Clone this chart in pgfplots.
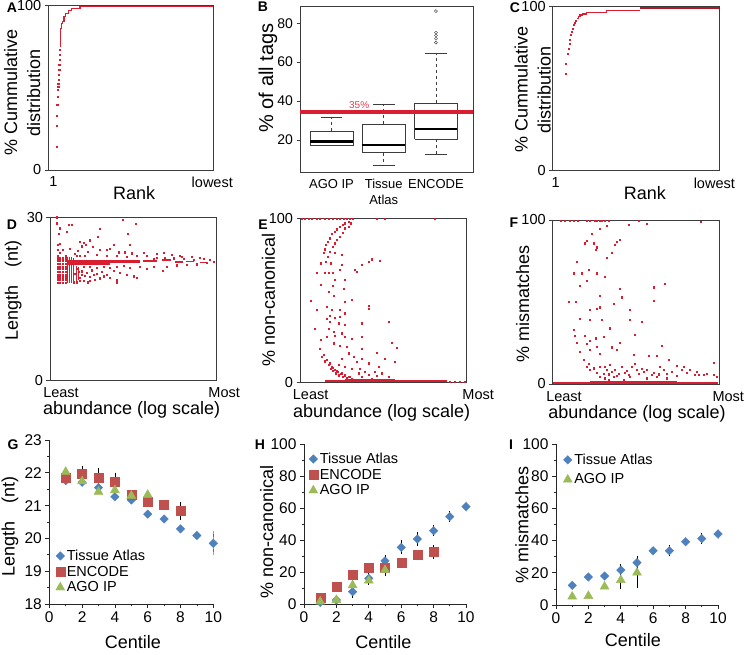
\documentclass[border=0pt]{standalone}
\usepackage{fontspec}
\setmainfont{Liberation Sans}
\usepackage{pgfplots}
\pgfplotsset{compat=1.18}
\definecolor{dred}{RGB}{218,30,50}
\definecolor{xblue}{RGB}{79,129,189}
\definecolor{xred}{RGB}{192,80,77}
\definecolor{xgreen}{RGB}{155,187,89}
\definecolor{frame}{RGB}{60,60,60}
\newcommand{\tfs}{\fontsize{14.5}{16}\selectfont}
\newcommand{\lfs}{\fontsize{18}{23}\selectfont}
\pgfplotsset{
 every axis/.append style={/pgf/number format/assume math mode=true},
 boxpanel/.style={scale only axis, anchor=north west, axis line style={frame, line width=0.8pt},
   tick style={frame, line width=0.7pt}, tick align=outside, major tick length=3.5pt,
   xtick pos=bottom, ytick pos=left, xtick style={draw=none},
   ticklabel style={font=\tfs}, label style={font=\lfs}, clip=false},
 scat/.style={only marks, mark=square*, mark size=0.6pt, color=dred},
 seg/.style={dred, line width=#1},
 xlpanel/.style={scale only axis, anchor=north west, axis x line*=bottom, axis y line*=left,
   axis line style={black!85, line width=0.8pt}, tick style={black!85, line width=0.7pt},
   tick align=outside, major tick length=4pt, minor tick length=2.5pt,
   ticklabel style={font=\fontsize{15.5}{17}\selectfont}, label style={font=\lfs},
   legend style={draw=none, fill=none, font=\tfs, anchor=north west, row sep=0pt},
   legend cell align=left,
   legend image code/.code={\draw[mark repeat=1,mark phase=1,##1] plot coordinates {(0pt,0pt)};},
   error bars/y dir=both, error bars/y explicit,
   error bars/error bar style={black, line width=0.8pt},
   error bars/error mark options={black, mark size=3pt, line width=0.8pt}},
 tser/.style={only marks, mark=square*, mark size=3pt, mark options={rotate=45, fill=xblue, draw=xblue}},
 eser/.style={only marks, mark=square*, mark size=4.5pt, mark options={fill=xred, draw=xred}},
 aser/.style={only marks, mark=triangle*, mark size=5.2pt, mark options={fill=xgreen, draw=xgreen}},
}
\begin{document}
\begin{tikzpicture}
\useasboundingbox (0pt,0pt) rectangle (745pt,655pt);

% ---------------- A
\begin{axis}[boxpanel, at={(48.3pt,649.7pt)}, width=165pt, height=164.7pt,
  xmin=145, xmax=640, ymin=0, ymax=100, ytick={0,100}, xtick={160,637}, xticklabels={1,lowest},
  xlabel={Rank}, ylabel={\% Cummulative\\distribution},
  xlabel style={at={(axis description cs:0.52,-0.14)}, anchor=center},
  ylabel style={at={(axis description cs:-0.158,0.47)}, anchor=center, align=center}]
\addplot[scat] coordinates {(170,14.2)(170,26.7)(170,32.8)(172,39.5)(173,44.5)(174,48.6)(175,50.6)(175,52.6)(176,54.7)(177,57.7)(178,60.7)(178,63.8)(179,66.8)(180,69.8)(180,72.9)};
\addplot[dred, line width=1.2pt] coordinates {(182,74.9)(182,86.0)(185,86.0)(185,89.1)(188,89.1)(188,90.1)(192,90.1)(192,93.1)(197,93.1)(197,95.1)(205,95.1)(205,96.8)(215,96.8)(215,98.2)(240,98.2)(240,99.3)(640,99.3)};
\end{axis}

% ---------------- B
\begin{axis}[boxpanel, at={(300pt,649pt)}, width=173pt, height=166pt,
  xmin=0.397, xmax=3.709, ymin=3.5, ymax=88.9, ytick={20,40,60,80},
  xtick={1,2,3}, xticklabels={AGO IP,Tissue\\Atlas,ENCODE},
  xticklabel style={align=center, font=\fontsize{13}{16}\selectfont},
  yticklabel style={font=\fontsize{14}{15}\selectfont},
  ylabel={\% of all tags},
  ylabel style={at={(axis description cs:-0.185,0.566)}, anchor=center, font=\fontsize{20}{22}\selectfont}]
% AGO IP
\addplot[frame, line width=0.7pt] coordinates {(0.59,17.4)(1.41,17.4)(1.41,24.6)(0.59,24.6)(0.59,17.4)};
\addplot[frame, dashed, line width=0.7pt] coordinates {(1,24.6)(1,31.5)};
\addplot[frame, line width=0.7pt] coordinates {(0.79,31.5)(1.21,31.5)};
\addplot[black, line width=2.5pt] coordinates {(0.59,19.1)(1.41,19.1)};
% Tissue Atlas
\addplot[frame, line width=0.7pt] coordinates {(1.59,13.5)(2.41,13.5)(2.41,28.1)(1.59,28.1)(1.59,13.5)};
\addplot[frame, dashed, line width=0.7pt] coordinates {(2,28.1)(2,38.3)};
\addplot[frame, dashed, line width=0.7pt] coordinates {(2,13.5)(2,7.1)};
\addplot[frame, line width=0.7pt] coordinates {(1.79,38.3)(2.21,38.3)};
\addplot[frame, line width=0.7pt] coordinates {(1.79,7.1)(2.21,7.1)};
\addplot[black, line width=2.5pt] coordinates {(1.59,17.4)(2.41,17.4)};
% ENCODE
\addplot[frame, line width=0.7pt] coordinates {(2.59,20.3)(3.41,20.3)(3.41,38.9)(2.59,38.9)(2.59,20.3)};
\addplot[frame, dashed, line width=0.7pt] coordinates {(3,38.9)(3,64.6)};
\addplot[frame, dashed, line width=0.7pt] coordinates {(3,20.3)(3,12.5)};
\addplot[frame, line width=0.7pt] coordinates {(2.79,64.6)(3.21,64.6)};
\addplot[frame, line width=0.7pt] coordinates {(2.79,12.5)(3.21,12.5)};
\addplot[black, line width=2.5pt] coordinates {(2.59,25.5)(3.41,25.5)};
\addplot[only marks, mark=o, mark size=1.5pt, frame] coordinates {(3,86.3)(3,75.2)(3,73.8)(3,72.1)(3,70.1)};
% 35% line
\addplot[dred, line width=4pt] coordinates {(0.397,34.4)(3.709,34.4)};
\node[text=dred!85, font=\fontsize{10}{10}\selectfont] at (axis cs:1.53,37.8) {35\%};
\end{axis}

% ---------------- C
\begin{axis}[boxpanel, at={(552.7pt,648.3pt)}, width=166.6pt, height=164pt,
  xmin=188, xmax=688, ymin=0, ymax=100, ytick={0,100}, xtick={197,673}, xticklabels={1,lowest},
  xlabel={Rank}, ylabel={\% Cummulative\\distribution},
  xlabel style={at={(axis description cs:0.554,-0.134)}, anchor=center},
  ylabel style={at={(axis description cs:-0.12,0.494)}, anchor=center, align=center}]
\addplot[scat] coordinates {(228,59.3)(228,65.4)(233,71.5)(236,74.6)(238,77.6)(240,80.1)(243,82.7)(245,84.8)(248,86.8)(252,88.8)(255,90.2)(258,91.5)};
\addplot[dred, line width=1.2pt] coordinates {(262,92.9)(265,92.9)(265,93.9)(270,93.9)(270,94.9)(278,94.9)(278,95.5)(290,95.5)(290,96.3)(305,96.3)(305,96.7)(350,96.7)(350,97.6)(450,97.6)};
\addplot[dred!80!black, line width=2pt] coordinates {(450,99.3)(688,99.3)};
\end{axis}

% ---------------- D
\begin{axis}[boxpanel, at={(50pt,437.7pt)}, width=166.7pt, height=163.4pt,
  xmin=150, xmax=650, ymin=0, ymax=30, ytick={0,30}, xtick={183,650}, xticklabels={Least,\hspace*{15pt}Most},
  xlabel={abundance (log scale)}, ylabel={Length\quad(nt)},
  xlabel style={at={(axis description cs:0.49,-0.18)}, anchor=center},
  ylabel style={at={(axis description cs:-0.22,0.55)}, anchor=center}]
\addplot[seg=4.5pt] coordinates {(203,21.7)(330,21.7)};
\addplot[seg=3.2pt] coordinates {(330,21.9)(420,21.9)};
\addplot[seg=2pt] coordinates {(430,21.9)(470,21.9)};
\addplot[seg=2pt] coordinates {(485,22.1)(512,22.1)};
\addplot[seg=1.8pt] coordinates {(525,21.8)(548,21.8)};
\addplot[seg=1.8pt] coordinates {(558,21.9)(582,21.9)};
\addplot[seg=1.5pt] coordinates {(600,21.7)(625,21.7)};
\addplot[seg=1.1pt] coordinates {(203,18)(203,22.7)};
\addplot[seg=1.1pt] coordinates {(209,18)(209,22.7)};
\addplot[seg=1.1pt] coordinates {(215,18)(215,22.7)};
\addplot[seg=1.1pt] coordinates {(221,18.2)(221,22.5)};
\addplot[seg=1pt] coordinates {(228,18.3)(228,21)};
\addplot[seg=1pt] coordinates {(235,18.5)(235,20.8)};
\addplot[scat] coordinates {
(172,18)(172,18.5)(172,19)(172,19.5)(172,20)(172,20.5)(172,21)(172,21.5)(172,22)(172,22.5)(172,23)(172,24)
(180,18)(180,18.5)(180,19)(180,19.5)(180,20)(180,20.5)(180,21)(180,21.5)(180,22)(180,22.5)(180,23.5)
(188,18)(188,18.5)(188,19)(188,19.5)(188,20)(188,20.5)(188,21)(188,21.5)(188,22)(188,22.5)(188,24)
(196,18)(196,18.5)(196,19)(196,19.5)(196,20)(196,20.5)(196,21)(196,21.5)(196,22)(196,22.5)(196,23)
(170,30)(368,29.6)(170,28.9)(205,28.7)(215,28.7)(408,28.8)(180,28.0)(298,27.9)(200,27.4)(383,27.0)(175,27.0)(293,26.4)
(238,25.5)(250,25.4)(268,25.8)(180,25.2)(172,24.9)(258,24.9)(340,24.9)(388,24.9)(245,24.7)(278,24.6)(210,24.3)(330,24.3)
(300,24.0)(320,24.1)(232,23.8)(262,23.7)(355,23.6)(375,23.6)(395,23.4)(430,23.5)(470,23.3)(490,23.5)(515,23.2)(540,23.0)
(575,22.8)(600,22.6)(545,22.7)(470,22.6)(440,22.9)(410,23.0)(380,22.8)(350,22.9)(320,23.0)(290,23.1)(255,23.0)(230,22.9)
(230,20.5)(245,20.1)(260,19.8)(275,20.3)(290,19.7)(305,20.0)(320,19.5)(340,20.2)(360,19.8)(380,19.4)(400,19.2)(410,18.9)
(350,18.6)(330,18.9)(300,18.8)(285,18.5)(270,18.3)(250,18.4)(240,18.9)(255,19.3)(225,19.6)(488,20.2)(440,20.6)(420,20.9)
(390,20.7)(460,21.0)(500,20.9)(530,21.2)(560,21.3)(590,21.4)(620,21.6)(640,21.8)(630,22.2)(610,22.4)(580,22.2)(550,22.4)
(520,22.5)(495,22.6)(460,22.3)(240,22.9)(225,23.3)(250,21.0)(270,21.0)(290,20.8)(310,21.0)(330,20.7)(350,21.0)(370,21.1)
(230,18.1)(220,18.1)(350,18.1)(238,18.3)(262,18.1)(245,19.5)(268,19.1)(282,19.4)(310,19.2)(236,20.0)};
\end{axis}

% ---------------- E
\begin{axis}[boxpanel, at={(300pt,436.7pt)}, width=166.7pt, height=164pt,
  xmin=165, xmax=665, ymin=0, ymax=100, ytick={0,100}, xtick={197,665}, xticklabels={Least,\hspace*{23pt}Most},
  xlabel={abundance (log scale)}, ylabel={\% non-canonical},
  xlabel style={at={(axis description cs:0.49,-0.185)}, anchor=center},
  ylabel style={at={(axis description cs:-0.19,0.5)}, anchor=center}]
\addplot[seg=1.3pt] coordinates {(240,0.8)(300,0.8)};
\addplot[seg=3.5pt] coordinates {(300,1.2)(450,1.2)};
\addplot[seg=1.8pt] coordinates {(450,0.8)(605,0.8)};
\addplot[scat] coordinates {(615,0.5)(628,0.5)(645,0.5)(660,0.5)
(170,99.6)(180,99.6)(190,99.6)(200,99.6)(215,99.6)(225,99.6)(240,99.6)(250,99.6)(262,99.6)(275,99.6)(285,99.6)(295,99.6)(305,99.6)(315,99.6)(322,99.6)(395,99.6)(420,99.6)(570,99.6)
(310,98.0)(300,97.0)(292,95.9)(283,94.9)(275,93.3)(268,91.9)(260,90.5)(253,87.8)(248,85.8)(243,83.8)(240,81.1)(300,93.9)
(292,91.3)(284,88.8)(276,86.8)(268,84.8)(262,82.7)(255,79.7)(248,76.6)(242,73.6)(318,97.0)(310,94.9)(235,79.1)(268,79.1)
(290,77.7)(228,72.6)(258,72.6)(290,71.6)(350,71.6)(370,73.6)(380,75.0)(405,74.2)(330,68.5)(335,67.5)(215,66.9)(240,66.9)
(250,66.9)(262,66.9)(285,68.5)(270,62.4)(300,62.4)(228,59.4)(262,58.8)(295,57.3)(250,55.3)(265,52.7)(198,49.8)(300,49.2)
(320,50.2)(245,46.1)(215,44.5)(260,44.1)(285,44.1)(370,46.6)(372,45.1)(300,42.1)(255,40.5)(285,40.0)(270,39.6)(245,39.0)
(350,36.0)(255,37.0)(280,36.0)(300,35.0)(210,32.9)(250,32.9)(265,30.9)(290,29.9)(245,27.9)(270,28.3)(300,27.9)(320,26.8)
(350,27.9)(432,37.0)(440,24.2)(455,21.3)(228,25.8)(225,20.7)(265,23.8)(285,22.2)(305,21.8)(350,20.7)(395,18.1)(420,14.6)
(450,12.6)(235,16.7)(245,13.6)(255,11.6)(260,9.6)(268,7.9)(278,6.5)(290,5.5)(300,4.5)(280,10.6)(300,9.6)(320,8.5)
(345,8.5)(370,11.6)(390,6.5)(410,5.5)(335,12.6)(290,14.6)(310,17.7)(325,15.7)(350,14.6)(370,4.5)(400,9.6)(430,3.5)
(380,2.4)(315,3.5)(340,5.5)(360,6.5)(350,3.5)(395,3.9)(258,8.5)(264,7.1)(272,5.5)(282,4.3)(292,3.5)(305,2.8)(320,2.4)
(250,10.8)(262,9.0)(274,7.2)(240,12.8)(230,15.5)(286,5.2)(298,4.0)(310,3.2)};
\end{axis}

% ---------------- F
\begin{axis}[boxpanel, at={(552.7pt,435pt)}, width=166.6pt, height=164pt,
  xmin=188, xmax=688, ymin=0, ymax=100, ytick={0,100}, xtick={222,688}, xticklabels={Least,\hspace*{18pt}Most},
  xlabel={abundance (log scale)}, ylabel={\% mismatches},
  xlabel style={at={(axis description cs:0.506,-0.18)}, anchor=center},
  ylabel style={at={(axis description cs:-0.18,0.49)}, anchor=center}]
\addplot[seg=1.3pt] coordinates {(190,0.6)(300,0.6)};
\addplot[seg=2.4pt] coordinates {(300,0.8)(560,0.8)};
\addplot[seg=1.6pt] coordinates {(560,0.6)(685,0.6)};
\addplot[scat] coordinates {
(213,99.6)(225,99.6)(238,99.6)(250,99.6)(262,99.6)(290,99.6)(300,99.6)(315,99.6)(320,99.6)(328,99.6)(335,99.6)(345,99.6)(355,99.6)(415,97.0)(445,99.6)(470,97.6)(632,99.0)
(305,91.5)(330,94.9)(350,96.4)(290,87.4)(285,85.8)(310,85.8)(320,83.4)(318,82.1)(380,86.8)(388,87.8)(375,84.8)(365,80.1)
(350,77.1)(260,74.6)(250,67.5)(275,67.5)(295,69.5)(320,67.5)(345,65.5)(290,63.0)(268,59.8)(235,50.2)(258,50.2)(330,53.7)
(390,58.3)(395,52.9)(490,59.0)(490,50.8)(525,61.0)(300,45.5)(320,46.1)(330,46.8)(370,48.8)(420,45.1)(420,39.0)(455,38.0)
(270,40.0)(250,32.9)(300,39.0)(335,39.4)(360,34.0)(435,29.9)(255,29.3)(285,29.3)(300,26.4)(318,27.9)(340,28.9)(260,25.2)
(290,24.8)(320,22.8)(390,25.2)(365,22.4)(270,19.7)(300,20.7)(330,18.3)(380,20.7)(430,17.7)(475,17.1)(500,17.1)(515,23.2)
(537,15.0)(280,14.6)(295,12.6)(310,9.6)(330,10.6)(345,10.6)(350,8.5)(360,11.6)(365,7.5)(375,8.9)(385,6.5)(395,10.6)
(405,6.9)(415,5.5)(425,10.6)(435,12.6)(440,8.5)(445,6.5)(460,7.5)(470,8.5)(485,5.5)(490,6.9)(510,10.6)(520,8.9)
(530,6.5)(545,7.5)(560,11.0)(575,8.9)(582,10.6)(590,6.9)(600,8.5)(615,5.5)(625,5.9)(640,5.5)(670,5.5)(680,4.5)
(672,13.0)(330,4.5)(345,3.5)(355,2.4)(370,4.5)(400,2.4)(420,4.5)(470,3.5)(500,4.5)(530,3.5)(340,6.5)(320,6.9)
(300,8.5)(290,10.6)(355,6.0)(380,5.0)(410,8.0)(455,9.5)(505,6.0)(560,5.0)(620,7.5)(650,6.5)};
\end{axis}

% ---------------- G
\begin{axis}[xlpanel, at={(49.3pt,215pt)}, width=164pt, height=164pt,
  xmin=0, xmax=10, ymin=18, ymax=23, xtick={0,2,...,10}, minor xtick={1,3,...,9},
  ytick={18,...,23}, minor ytick={18.5,19.5,...,22.5},
  xlabel={Centile}, ylabel={Length\quad(nt)},
  xlabel style={at={(axis description cs:0.51,-0.235)}, anchor=center},
  ylabel style={at={(axis description cs:-0.24,0.47)}, anchor=center},
  legend style={at={(axis description cs:0.02,0.355)}}]
\addplot[tser] coordinates {(1,21.76)(2,21.71)(3,21.55)(4,21.27)(5,21.17)(6,20.74)(7,20.59)(8,20.29)(9,20.09)(10,19.85) +- (0,0.27)};
\addlegendentry{Tissue Atlas}
\addplot[eser] coordinates {(1,21.85)(2,21.97) +- (0,0.15) (3,21.85) +- (0,0.2) (4,21.73) +- (0,0.18) (5,21.33)(6,21.13)(7,21.02)(8,20.83) +- (0,0.18)};
\addlegendentry{ENCODE}
\addplot[aser] coordinates {(1,22.03)(2,21.74)(3,21.42)(4,21.47)(5,21.30)(6,21.33)};
\addlegendentry{AGO IP}
\end{axis}

% ---------------- H
\begin{axis}[xlpanel, at={(304pt,211pt)}, width=162pt, height=160pt,
  xmin=0, xmax=10, ymin=0, ymax=100, xtick={0,2,...,10}, minor xtick={1,3,...,9},
  ytick={0,20,...,100}, minor ytick={10,30,...,90},
  xlabel={Centile}, ylabel={\% non-canonical},
  xlabel style={at={(axis description cs:0.49,-0.235)}, anchor=center},
  ylabel style={at={(axis description cs:-0.23,0.45)}, anchor=center},
  legend style={at={(axis description cs:0.01,0.97)}}]
\addplot[tser] coordinates {(1,1)(2,2.5)(3,7.7) +- (0,2) (4,16) +- (0,2) (5,26.9) +- (0,2) (6,35.4) +- (0,2.5) (7,40.6) +- (0,2.5) (8,45.8) +- (0,1.5) (9,54.6) +- (0,1.5) (10,60.8) +- (0,1.5)};
\addlegendentry{Tissue Atlas}
\addplot[eser] coordinates {(1,4.0)(2,10.8)(3,18.1)(4,22.7)(5,22.7) +- (0,2) (6,26.0)(7,31.0)(8,32.5) +- (0,2.5)};
\addlegendentry{ENCODE}
\addplot[aser] coordinates {(1,1.5)(2,2.5)(3,11.7) +- (0,1.5) (4,14.6)(5,21.2) +- (0,2)};
\addlegendentry{AGO IP}
\end{axis}

% ---------------- I
\begin{axis}[xlpanel, at={(556pt,211pt)}, width=162pt, height=161pt,
  xmin=0, xmax=10, ymin=0, ymax=100, xtick={0,2,...,10}, minor xtick={1,3,...,9},
  ytick={0,20,...,100}, minor ytick={10,30,...,90},
  xlabel={Centile}, ylabel={\% mismatches},
  xlabel style={at={(axis description cs:0.475,-0.22)}, anchor=center},
  ylabel style={at={(axis description cs:-0.21,0.5)}, anchor=center},
  legend style={at={(axis description cs:0.025,0.965)}, row sep=4pt}]
\addplot[tser] coordinates {(1,12.2)(2,17.4)(3,18.0)(4,21.7) +- (0,2) (5,26.3) +- (0,2.5) (6,33.7)(7,33.7) +- (0,1.5) (8,39.3)(9,41.2) +- (0,1.5) (10,44.1) +- (0,1.5)};
\addlegendentry{Tissue Atlas}
\addplot[aser] coordinates {(1,5.2)(2,5.6)(3,11.4)(4,15.5) +- (0,3.5) (5,20.1) +- (0,7.7)};
\addlegendentry{AGO IP}
\end{axis}

% panel letters
\begin{scope}[every node/.style={font=\bfseries\fontsize{14}{14}\selectfont, inner sep=0pt}]
\node at (12pt,647pt) {A};
\node at (263pt,648pt) {B};
\node at (515pt,647pt) {C};
\node at (12pt,430pt) {D};
\node at (263pt,430pt) {E};
\node at (514pt,432pt) {F};
\node at (13pt,210pt) {G};
\node at (260pt,210pt) {H};
\node at (511pt,210pt) {I};
\end{scope}
\end{tikzpicture}
\end{document}
